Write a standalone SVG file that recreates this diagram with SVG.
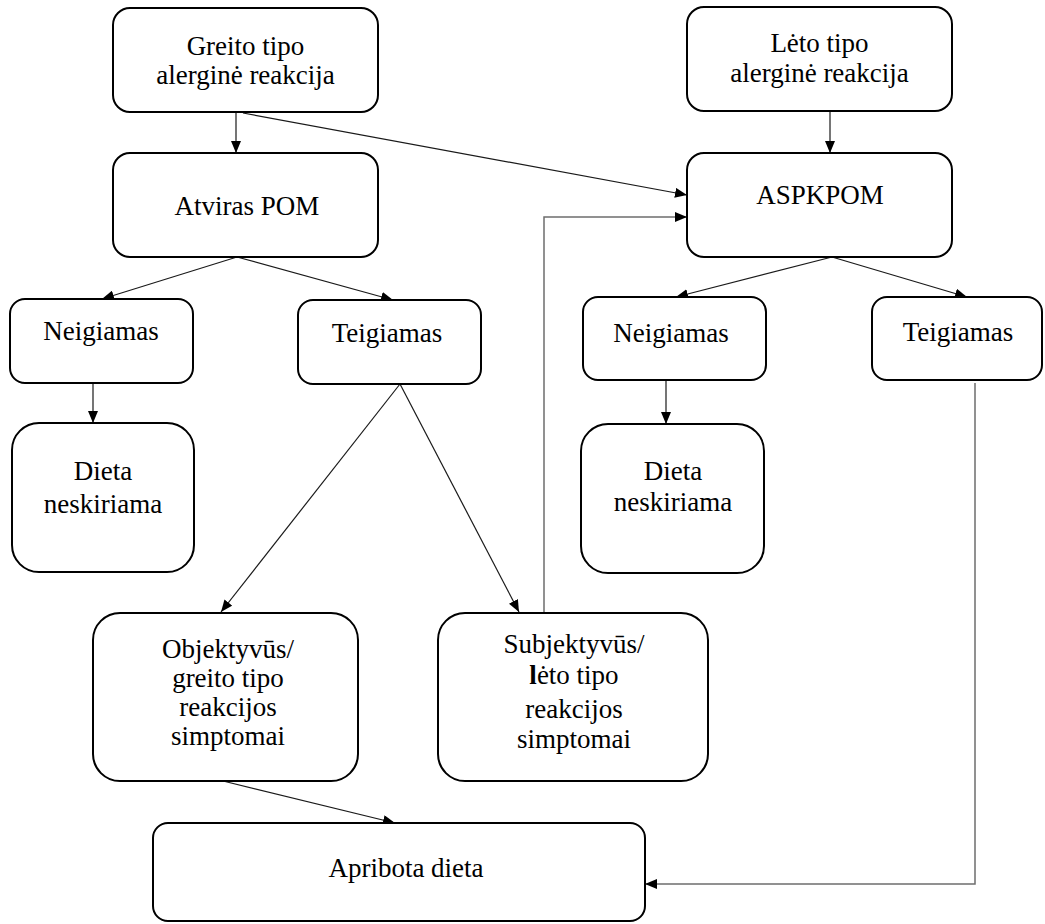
<svg xmlns="http://www.w3.org/2000/svg" width="1045" height="924" viewBox="0 0 1045 924">
  <style>
    .box { fill: #ffffff; stroke: #000000; stroke-width: 2; }
    .lbl { font-family: "Liberation Serif", "Times New Roman", serif; font-size: 27px; fill: #000000; text-anchor: middle; }
    .conn { fill: none; stroke: #1a1a1a; stroke-width: 1.2; }
    .grey { fill: none; stroke: #6e6e6e; stroke-width: 1.5; }
  </style>
  <defs>
    <marker id="arr" markerUnits="userSpaceOnUse" markerWidth="12" markerHeight="10" refX="12" refY="5" orient="auto">
      <path d="M0,0 L12,5 L0,10 z" fill="#000000"/>
    </marker>
  </defs>
  <rect width="1045" height="924" fill="#ffffff"/>

  <g id="connectors">
    <path class="conn" d="M236,113 L236,153" marker-end="url(#arr)"/>
    <path class="conn" d="M243,113 L687,195" marker-end="url(#arr)"/>
    <path class="conn" d="M830,111 L830,153" marker-end="url(#arr)"/>
    <path class="conn" d="M237,257 L102,299" marker-end="url(#arr)"/>
    <path class="conn" d="M237,257 L393,300" marker-end="url(#arr)"/>
    <path class="conn" d="M832,257 L676,297" marker-end="url(#arr)"/>
    <path class="conn" d="M832,257 L967,297" marker-end="url(#arr)"/>
    <path class="conn" d="M93,383 L93,423" marker-end="url(#arr)"/>
    <path class="conn" d="M666,380 L666,424" marker-end="url(#arr)"/>
    <path class="conn" d="M400,384 L221,612" marker-end="url(#arr)"/>
    <path class="conn" d="M400,384 L519,612" marker-end="url(#arr)"/>
    <path class="grey" d="M544,613 L544,217 L687,217" marker-end="url(#arr)"/>
    <path class="grey" d="M975,383 L975,884 L645,884" marker-end="url(#arr)"/>
    <path class="conn" d="M223,781 L395,823" marker-end="url(#arr)"/>
  </g>

  <g id="greito">
    <rect class="box" x="113" y="8" width="265" height="104" rx="17"/>
    <text class="lbl" x="245.5" y="55">Greito tipo</text>
    <text class="lbl" x="245.5" y="84">alerginė reakcija</text>
  </g>
  <g id="leto">
    <rect class="box" x="687" y="7" width="265" height="104" rx="17"/>
    <text class="lbl" x="819.5" y="52">Lėto tipo</text>
    <text class="lbl" x="819.5" y="82">alerginė reakcija</text>
  </g>
  <g id="atviras">
    <rect class="box" x="113" y="153" width="265" height="104" rx="17"/>
    <text class="lbl" x="247" y="215">Atviras POM</text>
  </g>
  <g id="aspkpom">
    <rect class="box" x="687" y="153" width="265" height="104" rx="17"/>
    <text class="lbl" x="820" y="204">ASPKPOM</text>
  </g>
  <g id="neig1">
    <rect class="box" x="10" y="299" width="183" height="84" rx="15"/>
    <text class="lbl" x="101" y="340">Neigiamas</text>
  </g>
  <g id="teig1">
    <rect class="box" x="298" y="300" width="183" height="84" rx="15"/>
    <text class="lbl" x="387" y="342">Teigiamas</text>
  </g>
  <g id="dieta1">
    <rect class="box" x="12" y="423" width="182" height="149" rx="27"/>
    <text class="lbl" x="103" y="480">Dieta</text>
    <text class="lbl" x="103" y="513">neskiriama</text>
  </g>
  <g id="neig2">
    <rect class="box" x="583" y="297" width="183" height="83" rx="15"/>
    <text class="lbl" x="671" y="342">Neigiamas</text>
  </g>
  <g id="teig2">
    <rect class="box" x="872" y="297" width="170" height="83" rx="15"/>
    <text class="lbl" x="958" y="341">Teigiamas</text>
  </g>
  <g id="dieta2">
    <rect class="box" x="581" y="424" width="183" height="149" rx="27"/>
    <text class="lbl" x="673" y="480">Dieta</text>
    <text class="lbl" x="673" y="511">neskiriama</text>
  </g>
  <g id="objektyvus">
    <rect class="box" x="93" y="613" width="265" height="168" rx="27"/>
    <text class="lbl" x="228" y="658">Objektyvūs/</text>
    <text class="lbl" x="228" y="687">greito tipo</text>
    <text class="lbl" x="228" y="716">reakcijos</text>
    <text class="lbl" x="228" y="745">simptomai</text>
  </g>
  <g id="subjektyvus">
    <rect class="box" x="438" y="613" width="270" height="168" rx="27"/>
    <text class="lbl" x="574" y="653">Subjektyvūs/</text>
    <text class="lbl" x="574" y="684"><tspan font-weight="bold">l</tspan>ėto tipo</text>
    <text class="lbl" x="574" y="718">reakcijos</text>
    <text class="lbl" x="574" y="748">simptomai</text>
  </g>
  <g id="apribota">
    <rect class="box" x="153" y="823" width="492" height="98" rx="15"/>
    <text class="lbl" x="406" y="877">Apribota dieta</text>
  </g>
</svg>
